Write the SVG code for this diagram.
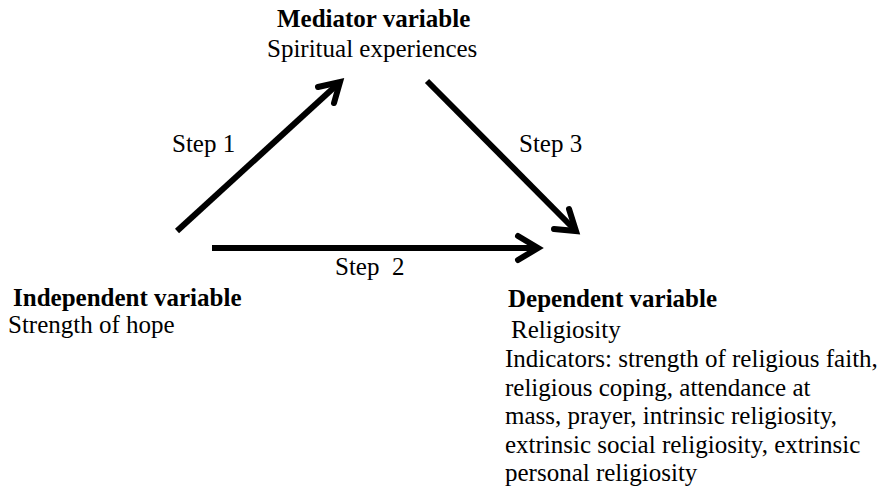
<svg xmlns="http://www.w3.org/2000/svg" width="887" height="501" viewBox="0 0 887 501">
  <style>
    text { font-family: "Liberation Serif", "Times New Roman", serif; font-size: 25px; fill: #000; }
    .b { font-weight: bold; }
    .arrow { stroke: #000; stroke-width: 6; fill: none; stroke-linecap: butt; }
    .head { stroke: #000; stroke-width: 6; fill: none; stroke-linecap: round; stroke-linejoin: miter; }
  </style>
  <rect width="887" height="501" fill="#fff"/>

  <g id="mediator">
    <text x="277" y="27" class="b">Mediator variable</text>
    <text x="267" y="57">Spiritual experiences</text>
  </g>

  <g id="independent">
    <text x="13" y="306" class="b">Independent variable</text>
    <text x="8" y="333">Strength of hope</text>
  </g>

  <g id="dependent">
    <text x="508" y="307" class="b">Dependent variable</text>
    <text x="511" y="338">Religiosity</text>
    <text x="505" y="367">Indicators: strength of religious faith,</text>
    <text x="505" y="396">religious coping, attendance at</text>
    <text x="505" y="424">mass, prayer, intrinsic religiosity,</text>
    <text x="505" y="453">extrinsic social religiosity, extrinsic</text>
    <text x="505" y="481">personal religiosity</text>
  </g>

  <g id="connectors">
    <!-- Step 1: independent to mediator -->
    <line class="arrow" x1="177" y1="231" x2="340" y2="82"/>
    <polyline class="head" points="318,87 340,82 334,103"/>
    <!-- Step 3: mediator to dependent -->
    <line class="arrow" x1="427" y1="81" x2="576" y2="231"/>
    <polyline class="head" points="569,209 576,231 554,229"/>
    <!-- Step 2: independent to dependent -->
    <line class="arrow" x1="212" y1="248" x2="538" y2="248"/>
    <polyline class="head" points="518,236 538,248 518,260"/>
    <text x="172" y="152">Step 1</text>
    <text x="519" y="152">Step 3</text>
    <text x="335" y="275" xml:space="preserve">Step  2</text>
  </g>
</svg>
